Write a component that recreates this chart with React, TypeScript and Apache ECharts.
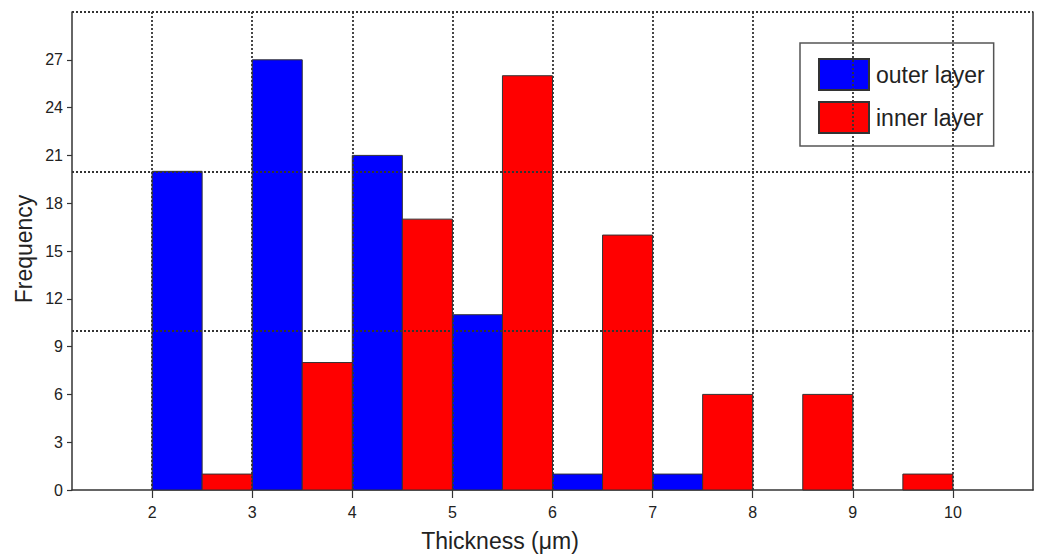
import React, { useEffect, useRef } from "react";
import * as echarts from "echarts";

// Histogram bins (bin start, µm) and frequencies
const binWidth = 0.5;
const outerBinStart = [2, 3, 4, 5, 6, 7];
const outerFreq = [20, 27, 21, 11, 1, 1];
const innerBinStart = [2.5, 3.5, 4.5, 5.5, 6.5, 7.5, 8.5, 9.5];
const innerFreq = [1, 8, 17, 26, 16, 6, 6, 1];

// Axis ticks and grid lines
const xTicks = [2, 3, 4, 5, 6, 7, 8, 9, 10];
const yTicks = [0, 3, 6, 9, 12, 15, 18, 21, 24, 27];
const xGrid = [2, 3, 4, 5, 6, 7, 8, 9, 10];
const yGrid = [10, 20, 30];

const FONT = "'Liberation Sans', Arial, Helvetica, sans-serif";

export default function App() {
  const ref = useRef<HTMLDivElement>(null);

  useEffect(() => {
    document.body.style.margin = "0";
    if (!ref.current) return;
    const chart = echarts.init(ref.current, null, { renderer: "svg" });

    const renderItem = (params: any, api: any) => {
      const x0 = api.value(0);
      const y = api.value(1);
      const p0 = api.coord([x0, y]);
      const p1 = api.coord([x0 + binWidth, 0]);
      return {
        type: "rect",
        shape: { x: p0[0], y: p0[1], width: p1[0] - p0[0], height: p1[1] - p0[1] },
        style: api.style(),
      };
    };

    const gridLine = { color: "#333", width: 1.8, type: [2, 2] as any };

    chart.setOption({
      animation: false,
      backgroundColor: "#fff",
      grid: { left: 72, top: 12, right: 4, bottom: 64, containLabel: false },
      xAxis: {
        type: "value",
        min: 1.2,
        max: 10.8,
        axisLine: { show: true, lineStyle: { color: "#333", width: 1.5 } },
        axisTick: {
          show: true,
          length: 8,
          customValues: xTicks,
          lineStyle: { color: "#333", width: 1.2 },
        },
        axisLabel: {
          customValues: xTicks,
          fontFamily: FONT,
          fontSize: 16,
          color: "#222",
          margin: 14,
        },
        splitLine: { show: false },
      },
      yAxis: [
        {
          type: "value",
          min: 0,
          max: 30,
          axisLine: { show: true, lineStyle: { color: "#333", width: 1.5 } },
          axisTick: {
            show: true,
            length: 5,
            customValues: yTicks,
            lineStyle: { color: "#333", width: 1.2 },
          },
          axisLabel: {
            customValues: yTicks,
            fontFamily: FONT,
            fontSize: 16,
            color: "#222",
            margin: 9,
          },
          splitLine: { show: false },
        },
        {
          type: "value",
          position: "right",
          min: 0,
          max: 30,
          axisLine: { show: true, lineStyle: { color: "#333", width: 1.5 } },
          axisTick: { show: false },
          axisLabel: { show: false },
          splitLine: { show: false },
        },
      ],
      legend: {
        orient: "vertical",
        left: 800,
        top: 43,
        padding: [15, 9, 12, 18],
        itemWidth: 50,
        itemHeight: 31,
        itemGap: 10,
        icon: "rect",
        backgroundColor: "#fff",
        borderColor: "#555",
        borderWidth: 1.5,
        borderRadius: 0,
        textStyle: {
          fontFamily: FONT,
          fontSize: 23,
          lineHeight: 29,
          color: "#222",
          padding: [0, 0, 0, 2],
        },
        data: ["outer layer", "inner layer"],
        selectedMode: false,
      },
      series: [
        {
          type: "line",
          name: "grid",
          data: [],
          silent: true,
          z: 1,
          markLine: {
            silent: true,
            symbol: "none",
            label: { show: false },
            lineStyle: gridLine,
            data: [
              ...xGrid.map((v) => ({ xAxis: v })),
              ...yGrid.map((v) => ({ yAxis: v })),
            ],
          },
        },
        {
          type: "custom",
          name: "outer layer",
          renderItem,
          z: 3,
          encode: { x: 0, y: 1 },
          itemStyle: { color: "#0000ff", borderColor: "#333", borderWidth: 1 },
          data: outerBinStart.map((x, i) => [x, outerFreq[i]]),
        },
        {
          type: "custom",
          name: "inner layer",
          renderItem,
          z: 3,
          encode: { x: 0, y: 1 },
          itemStyle: { color: "#ff0000", borderColor: "#333", borderWidth: 1 },
          data: innerBinStart.map((x, i) => [x, innerFreq[i]]),
        },
      ],
      graphic: [
        {
          type: "text",
          x: 500,
          y: 541,
          style: {
            text: "Thickness (μm)",
            font: `23px ${FONT}`,
            fill: "#222",
            align: "center",
            verticalAlign: "middle",
          },
        },
        {
          type: "text",
          x: 24,
          y: 249,
          rotation: Math.PI / 2,
          style: {
            text: "Frequency",
            font: `23px ${FONT}`,
            fill: "#222",
            align: "center",
            verticalAlign: "middle",
          },
        },
      ],
    });

    return () => chart.dispose();
  }, []);

  return <div ref={ref} style={{ width: 1037, height: 554 }} />;
}
